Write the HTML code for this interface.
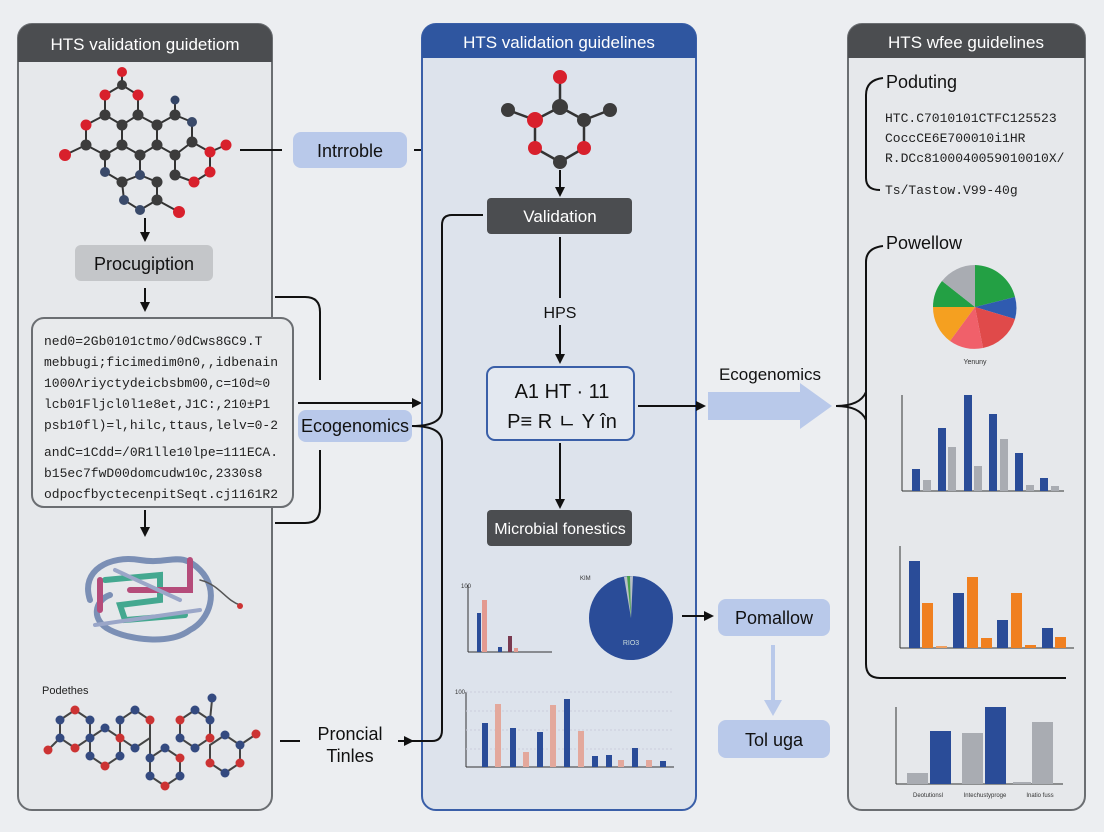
<!DOCTYPE html>
<html><head><meta charset="utf-8"><style>
html,body{margin:0;padding:0;background:#eceef1;}
svg{display:block;font-family:"Liberation Sans",sans-serif;}
.mono{font-family:"Liberation Mono",monospace;}
</style></head><body>
<svg width="1104" height="832" viewBox="0 0 1104 832" xmlns="http://www.w3.org/2000/svg">
<defs>
<marker id="ah" markerWidth="10" markerHeight="10" refX="8" refY="5" orient="auto" markerUnits="userSpaceOnUse"><path d="M0,0 L10,5 L0,10 z" fill="#111"/></marker>
</defs>
<rect width="1104" height="832" fill="#eceef1"/>

<!-- LEFT PANEL -->
<rect x="18" y="24" width="254" height="786" rx="14" fill="#e6e8eb" stroke="#6b6e72" stroke-width="2"/>
<path d="M18,62 V38 a14,14 0 0 1 14,-14 H258 a14,14 0 0 1 14,14 V62 z" fill="#4b4d50"/>
<text x="145" y="50" fill="#fff" font-size="17" text-anchor="middle">HTS validation guidetiom</text>

<g stroke="#333" stroke-width="2">
<line x1="122" y1="72" x2="122" y2="85"/><line x1="122" y1="85" x2="105" y2="95"/><line x1="122" y1="85" x2="138" y2="95"/>
<line x1="105" y1="95" x2="105" y2="115"/><line x1="138" y1="95" x2="138" y2="115"/>
<line x1="105" y1="115" x2="122" y2="125"/><line x1="138" y1="115" x2="122" y2="125"/>
<line x1="138" y1="115" x2="157" y2="125"/><line x1="157" y1="125" x2="175" y2="115"/><line x1="175" y1="115" x2="192" y2="122"/>
<line x1="175" y1="115" x2="175" y2="100"/><line x1="192" y1="122" x2="192" y2="142"/>
<line x1="105" y1="115" x2="86" y2="125"/><line x1="86" y1="125" x2="86" y2="145"/><line x1="86" y1="145" x2="65" y2="155"/>
<line x1="86" y1="145" x2="105" y2="155"/><line x1="105" y1="155" x2="122" y2="145"/><line x1="122" y1="125" x2="122" y2="145"/>
<line x1="122" y1="145" x2="140" y2="155"/><line x1="140" y1="155" x2="157" y2="145"/><line x1="157" y1="125" x2="157" y2="145"/>
<line x1="157" y1="145" x2="175" y2="155"/><line x1="175" y1="155" x2="192" y2="142"/><line x1="192" y1="142" x2="210" y2="152"/><line x1="210" y1="152" x2="226" y2="145"/>
<line x1="210" y1="152" x2="210" y2="172"/><line x1="210" y1="172" x2="194" y2="182"/><line x1="194" y1="182" x2="175" y2="175"/><line x1="175" y1="155" x2="175" y2="175"/>
<line x1="105" y1="155" x2="105" y2="172"/><line x1="105" y1="172" x2="122" y2="182"/><line x1="122" y1="182" x2="140" y2="175"/><line x1="140" y1="155" x2="140" y2="175"/>
<line x1="140" y1="175" x2="157" y2="182"/><line x1="157" y1="182" x2="157" y2="200"/><line x1="157" y1="200" x2="140" y2="210"/><line x1="140" y1="210" x2="124" y2="200"/><line x1="124" y1="200" x2="122" y2="182"/><line x1="157" y1="200" x2="179" y2="212"/>
</g>
<g>
<circle cx="122" cy="72" r="5" fill="#d8202c"/><circle cx="122" cy="85" r="5" fill="#3c3c3c"/>
<circle cx="105" cy="95" r="5.5" fill="#d8202c"/><circle cx="138" cy="95" r="5.5" fill="#d8202c"/>
<circle cx="105" cy="115" r="5.5" fill="#3c3c3c"/><circle cx="138" cy="115" r="5.5" fill="#3c3c3c"/>
<circle cx="122" cy="125" r="5.5" fill="#3c3c3c"/><circle cx="157" cy="125" r="5.5" fill="#3c3c3c"/>
<circle cx="175" cy="100" r="4.5" fill="#334466"/><circle cx="175" cy="115" r="5.5" fill="#3c3c3c"/><circle cx="192" cy="122" r="5" fill="#3a4a6a"/>
<circle cx="86" cy="125" r="5.5" fill="#d8202c"/><circle cx="86" cy="145" r="5.5" fill="#3c3c3c"/><circle cx="65" cy="155" r="6" fill="#d8202c"/>
<circle cx="105" cy="155" r="5.5" fill="#3c3c3c"/><circle cx="122" cy="145" r="5.5" fill="#3c3c3c"/><circle cx="140" cy="155" r="5.5" fill="#3c3c3c"/>
<circle cx="157" cy="145" r="5.5" fill="#3c3c3c"/><circle cx="175" cy="155" r="5.5" fill="#3c3c3c"/><circle cx="192" cy="142" r="5.5" fill="#3c3c3c"/>
<circle cx="210" cy="152" r="5.5" fill="#d8202c"/><circle cx="226" cy="145" r="5.5" fill="#d8202c"/><circle cx="210" cy="172" r="5.5" fill="#d8202c"/><circle cx="194" cy="182" r="5.5" fill="#d8202c"/>
<circle cx="175" cy="175" r="5.5" fill="#3c3c3c"/><circle cx="105" cy="172" r="5" fill="#3a4a6a"/><circle cx="122" cy="182" r="5.5" fill="#3c3c3c"/>
<circle cx="140" cy="175" r="5" fill="#3a4a6a"/><circle cx="157" cy="182" r="5.5" fill="#3c3c3c"/><circle cx="157" cy="200" r="5.5" fill="#3c3c3c"/>
<circle cx="140" cy="210" r="5" fill="#3a4a6a"/><circle cx="124" cy="200" r="5" fill="#3a4a6a"/><circle cx="179" cy="212" r="6" fill="#d8202c"/>
</g>
<line x1="145" y1="218" x2="145" y2="240" stroke="#111" stroke-width="2" marker-end="url(#ah)"/>
<rect x="75" y="245" width="138" height="36" rx="6" fill="#c4c6c9"/>
<text x="144" y="270" font-size="18" text-anchor="middle" fill="#111">Procugiption</text>
<line x1="145" y1="288" x2="145" y2="310" stroke="#111" stroke-width="2" marker-end="url(#ah)"/>

<rect x="32" y="318" width="261" height="189" rx="12" fill="#e8eaec" stroke="#6b6e72" stroke-width="2"/>
<g class="mono" font-size="13" fill="#222">
<text x="44" y="345">ned0=2Gb0101ctmo/0dCws8GC9.T</text>
<text x="44" y="366">mebbugi;ficimedim0n0,,idbenain</text>
<text x="44" y="387">1000Ʌriyctydeicbsbm00,c=10d≈0</text>
<text x="44" y="408">lcb01Fljcl0l1e8et,J1C:,210±P1</text>
<text x="44" y="429">psb10fl)=l,hilc,ttaus,lelv=0-2</text>
<text x="44" y="456">andC=1Cdd=/0R1lle10lpe=111ECA.</text>
<text x="44" y="477">b15ec7fwD00domcudw10c,2330s8</text>
<text x="44" y="498">odpocfbyctecenpitSeqt.cj1161R2</text>
</g>
<line x1="145" y1="510" x2="145" y2="535" stroke="#111" stroke-width="2" marker-end="url(#ah)"/>

<g fill="none" stroke-width="6" stroke-linecap="round">
<path d="M90,600 C80,570 110,555 140,560 C170,565 180,550 200,570 C220,590 210,620 190,630 C170,645 130,640 110,630 C90,620 95,600 110,595" stroke="#7b8fb5"/>
<path d="M105,580 L160,575 L160,600 L120,605 L125,620 L185,615" stroke="#44a890"/>
<path d="M100,610 L100,580 M130,590 L190,590 L190,560" stroke="#b54c7a"/>
<path d="M115,570 L180,600 M95,625 L200,610" stroke="#9aa6c8" stroke-width="4"/>
<path d="M200,580 C220,585 225,600 240,605" stroke="#555" stroke-width="1.5"/>
</g>
<circle cx="240" cy="606" r="3" fill="#c33"/>
<text x="42" y="694" font-size="11" fill="#222">Podethes</text>
<g stroke="#444" stroke-width="2" fill="none">
<polygon points="60,720 75,710 90,720 90,738 75,748 60,738"/>
<polygon points="90,738 105,728 120,738 120,756 105,766 90,756"/>
<polygon points="120,720 135,710 150,720 150,738 135,748 120,738"/>
<polygon points="150,758 165,748 180,758 180,776 165,786 150,776"/>
<polygon points="180,720 195,710 210,720 210,738 195,748 180,738"/>
<polygon points="210,745 225,735 240,745 240,763 225,773 210,763"/>
<line x1="48" y1="750" x2="60" y2="738"/><line x1="210" y1="720" x2="212" y2="700"/><line x1="240" y1="745" x2="255" y2="735"/><line x1="150" y1="738" x2="150" y2="758"/>
</g>
<g>
<circle cx="60" cy="720" r="4.5" fill="#344a80"/><circle cx="75" cy="710" r="4.5" fill="#c33"/><circle cx="90" cy="720" r="4.5" fill="#344a80"/><circle cx="90" cy="738" r="4.5" fill="#344a80"/><circle cx="75" cy="748" r="4.5" fill="#c33"/><circle cx="60" cy="738" r="4.5" fill="#344a80"/>
<circle cx="105" cy="728" r="4.5" fill="#344a80"/><circle cx="120" cy="738" r="4.5" fill="#c33"/><circle cx="120" cy="756" r="4.5" fill="#344a80"/><circle cx="105" cy="766" r="4.5" fill="#c33"/><circle cx="90" cy="756" r="4.5" fill="#344a80"/>
<circle cx="135" cy="710" r="4.5" fill="#344a80"/><circle cx="150" cy="720" r="4.5" fill="#c33"/><circle cx="135" cy="748" r="4.5" fill="#344a80"/><circle cx="120" cy="720" r="4.5" fill="#344a80"/>
<circle cx="165" cy="748" r="4.5" fill="#344a80"/><circle cx="180" cy="758" r="4.5" fill="#c33"/><circle cx="180" cy="776" r="4.5" fill="#344a80"/><circle cx="165" cy="786" r="4.5" fill="#c33"/><circle cx="150" cy="776" r="4.5" fill="#344a80"/><circle cx="150" cy="758" r="4.5" fill="#344a80"/>
<circle cx="195" cy="710" r="4.5" fill="#344a80"/><circle cx="210" cy="720" r="4.5" fill="#344a80"/><circle cx="210" cy="738" r="4.5" fill="#c33"/><circle cx="195" cy="748" r="4.5" fill="#344a80"/><circle cx="180" cy="738" r="4.5" fill="#344a80"/><circle cx="180" cy="720" r="4.5" fill="#c33"/>
<circle cx="225" cy="735" r="4.5" fill="#344a80"/><circle cx="240" cy="745" r="4.5" fill="#344a80"/><circle cx="240" cy="763" r="4.5" fill="#c33"/><circle cx="225" cy="773" r="4.5" fill="#344a80"/><circle cx="210" cy="763" r="4.5" fill="#c33"/>
<circle cx="48" cy="750" r="4.5" fill="#c33"/><circle cx="212" cy="698" r="4.5" fill="#344a80"/><circle cx="256" cy="734" r="4.5" fill="#c33"/>
</g>

<!-- CONNECTORS -->
<line x1="240" y1="150" x2="282" y2="150" stroke="#111" stroke-width="2"/>
<rect x="293" y="132" width="114" height="36" rx="8" fill="#b9c9ea"/>
<text x="350" y="157" font-size="18" text-anchor="middle" fill="#111">Intrroble</text>
<line x1="414" y1="150" x2="433" y2="150" stroke="#111" stroke-width="2" marker-end="url(#ah)"/>
<path d="M275,297 H305 Q320,297 320,312 V380" fill="none" stroke="#111" stroke-width="2"/>
<path d="M320,450 V508 Q320,523 305,523 H275" fill="none" stroke="#111" stroke-width="2"/>
<line x1="298" y1="403" x2="420" y2="403" stroke="#111" stroke-width="2" marker-end="url(#ah)"/>
<rect x="298" y="410" width="114" height="32" rx="8" fill="#b9c9ea"/>
<text x="355" y="432" font-size="18" text-anchor="middle" fill="#111">Ecogenomics</text>
<line x1="280" y1="741" x2="300" y2="741" stroke="#111" stroke-width="2"/>
<text x="350" y="740" font-size="18" text-anchor="middle" fill="#111">Proncial</text>
<text x="350" y="762" font-size="18" text-anchor="middle" fill="#111">Tinles</text>
<line x1="398" y1="741" x2="412" y2="741" stroke="#111" stroke-width="2" marker-end="url(#ah)"/>

<!-- CENTER PANEL -->
<rect x="422" y="24" width="274" height="786" rx="14" fill="#dde3ec" stroke="#3a5fa8" stroke-width="2"/>
<path d="M422,58 V38 a14,14 0 0 1 14,-14 H682 a14,14 0 0 1 14,14 V58 z" fill="#2f56a0"/>
<text x="559" y="48" fill="#fff" font-size="17" text-anchor="middle">HTS validation guidelines</text>
<path d="M483,215 H452 Q442,215 442,225 V410 Q442,426 412,426" fill="none" stroke="#111" stroke-width="2"/>
<path d="M412,426 Q442,426 442,442 V730 Q442,741 432,741 H412" fill="none" stroke="#111" stroke-width="2"/>
<g stroke="#333" stroke-width="2.5">
<line x1="560" y1="77" x2="560" y2="107"/><line x1="560" y1="107" x2="535" y2="120"/><line x1="560" y1="107" x2="584" y2="120"/>
<line x1="535" y1="120" x2="508" y2="110"/><line x1="584" y1="120" x2="610" y2="110"/><line x1="535" y1="120" x2="535" y2="148"/>
<line x1="584" y1="120" x2="584" y2="148"/><line x1="535" y1="148" x2="560" y2="162"/><line x1="584" y1="148" x2="560" y2="162"/>
</g>
<circle cx="560" cy="77" r="7" fill="#d8202c"/><circle cx="560" cy="107" r="8" fill="#3c3c3c"/>
<circle cx="508" cy="110" r="7" fill="#3c3c3c"/><circle cx="610" cy="110" r="7" fill="#3c3c3c"/>
<circle cx="535" cy="120" r="8" fill="#d8202c"/><circle cx="584" cy="120" r="7" fill="#3c3c3c"/>
<circle cx="535" cy="148" r="7" fill="#d8202c"/><circle cx="584" cy="148" r="7" fill="#d8202c"/><circle cx="560" cy="162" r="7" fill="#3c3c3c"/>
<line x1="560" y1="170" x2="560" y2="195" stroke="#111" stroke-width="2" marker-end="url(#ah)"/>
<rect x="487" y="198" width="145" height="36" rx="4" fill="#4b4d50"/>
<text x="560" y="222" font-size="17" text-anchor="middle" fill="#fff">Validation</text>
<line x1="560" y1="237" x2="560" y2="298" stroke="#111" stroke-width="2"/>
<text x="560" y="318" font-size="16" text-anchor="middle" fill="#111">HPS</text>
<line x1="560" y1="325" x2="560" y2="362" stroke="#111" stroke-width="2" marker-end="url(#ah)"/>
<rect x="487" y="367" width="147" height="73" rx="8" fill="#e3e8f0" stroke="#3a5fa8" stroke-width="2"/>
<text x="562" y="398" font-size="20" text-anchor="middle" fill="#111">A1  HT · 11</text>
<text x="562" y="428" font-size="20" text-anchor="middle" fill="#111">P≡  R ㄴ Y în</text>
<line x1="560" y1="443" x2="560" y2="507" stroke="#111" stroke-width="2" marker-end="url(#ah)"/>
<rect x="487" y="510" width="145" height="36" rx="4" fill="#4b4d50"/>
<text x="560" y="534" font-size="16" text-anchor="middle" fill="#fff">Microbial fonestics</text>
<g stroke="#333" stroke-width="1"><line x1="468" y1="585" x2="468" y2="652"/><line x1="468" y1="652" x2="552" y2="652"/></g>
<rect x="477" y="613" width="4" height="39" fill="#2a4c98"/><rect x="482" y="600" width="5" height="52" fill="#e39a90"/>
<rect x="498" y="647" width="4" height="5" fill="#2a4c98"/><rect x="508" y="636" width="4" height="16" fill="#7a3a50"/><rect x="514" y="648" width="4" height="4" fill="#e39a90"/>
<text x="461" y="588" font-size="6" fill="#333">100</text>
<circle cx="631" cy="618" r="42" fill="#2a4c98"/>
<path d="M631,618 L624,577 L633,576 z" fill="#b9c0c8"/><path d="M631,618 L627,576 L630,576 z" fill="#4aa04a"/>
<text x="631" y="645" font-size="7" fill="#cdd" text-anchor="middle">RIO3</text>
<text x="580" y="580" font-size="6" fill="#333">KIM</text>
<g stroke="#333" stroke-width="1"><line x1="466" y1="692" x2="466" y2="767"/><line x1="466" y1="767" x2="674" y2="767"/></g>
<g stroke="#ccd" stroke-dasharray="2,2"><line x1="466" y1="692" x2="674" y2="692"/><line x1="466" y1="711" x2="674" y2="711"/><line x1="466" y1="730" x2="674" y2="730"/><line x1="466" y1="749" x2="674" y2="749"/></g>
<rect x="482" y="723" width="6" height="44" fill="#2a4c98"/><rect x="495" y="704" width="6" height="63" fill="#e3a89c"/>
<rect x="510" y="728" width="6" height="39" fill="#2a4c98"/><rect x="523" y="752" width="6" height="15" fill="#e3a89c"/>
<rect x="537" y="732" width="6" height="35" fill="#2a4c98"/><rect x="550" y="705" width="6" height="62" fill="#e3a89c"/>
<rect x="564" y="699" width="6" height="68" fill="#2a4c98"/><rect x="578" y="731" width="6" height="36" fill="#e3a89c"/>
<rect x="592" y="756" width="6" height="11" fill="#2a4c98"/><rect x="606" y="755" width="6" height="12" fill="#2a4c98"/><rect x="618" y="760" width="6" height="7" fill="#e3a89c"/>
<rect x="632" y="748" width="6" height="19" fill="#2a4c98"/><rect x="646" y="760" width="6" height="7" fill="#e3a89c"/><rect x="660" y="761" width="6" height="6" fill="#2a4c98"/>
<text x="455" y="694" font-size="6" fill="#333">100</text>

<!-- CENTER TO RIGHT -->
<line x1="638" y1="406" x2="704" y2="406" stroke="#111" stroke-width="2" marker-end="url(#ah)"/>
<text x="770" y="380" font-size="17" text-anchor="middle" fill="#111">Ecogenomics</text>
<path d="M708,392 H800 V383 L832,406 L800,429 V420 H708 z" fill="#b9c9ea"/>
<line x1="682" y1="616" x2="712" y2="616" stroke="#111" stroke-width="2" marker-end="url(#ah)"/>
<rect x="718" y="599" width="112" height="37" rx="8" fill="#b9c9ea"/>
<text x="774" y="624" font-size="18" text-anchor="middle" fill="#111">Pomallow</text>
<line x1="773" y1="645" x2="773" y2="703" stroke="#b9c9ea" stroke-width="4"/>
<path d="M764,700 L773,716 L782,700 z" fill="#b9c9ea"/>
<rect x="718" y="720" width="112" height="38" rx="8" fill="#b9c9ea"/>
<text x="774" y="746" font-size="18" text-anchor="middle" fill="#111">Tol uga</text>

<!-- RIGHT PANEL -->
<rect x="848" y="24" width="237" height="786" rx="14" fill="#e6e8eb" stroke="#6b6e72" stroke-width="2"/>
<path d="M848,58 V38 a14,14 0 0 1 14,-14 H1071 a14,14 0 0 1 14,14 V58 z" fill="#4b4d50"/>
<text x="966" y="48" fill="#fff" font-size="17" text-anchor="middle">HTS wfee guidelines</text>
<path d="M836,406 Q860,406 866,392 M836,406 Q860,406 866,420" fill="none" stroke="#111" stroke-width="2"/>
<path d="M883,78 Q866,80 866,95 V178 Q866,190 880,190" fill="none" stroke="#111" stroke-width="2"/>
<text x="886" y="88" font-size="18" fill="#111">Poduting</text>
<g class="mono" font-size="13" fill="#222">
<text x="885" y="122">HTC.C7010101CTFC125523</text>
<text x="885" y="142">CoccCE6E700010i1HR</text>
<text x="885" y="162">R.DCc8100040059010010X/</text>
<text x="885" y="194">Ts/Tastow.V99-40g</text>
</g>
<path d="M883,246 Q866,248 866,262 V664 Q866,678 880,678 H1066" fill="none" stroke="#111" stroke-width="2"/>
<text x="886" y="249" font-size="18" fill="#111">Powellow</text>
<g transform="translate(975,307)">
<path d="M0,0 L0,-42 A42,42 0 0 1 40,-10 z" fill="#23a044"/>
<path d="M0,0 L40,-10 A42,42 0 0 1 40,12 z" fill="#2f5bb0"/>
<path d="M0,0 L40,12 A42,42 0 0 1 8,41 z" fill="#e04a4a"/>
<path d="M0,0 L8,41 A42,42 0 0 1 -25,34 z" fill="#f0606a"/>
<path d="M0,0 L-25,34 A42,42 0 0 1 -42,0 z" fill="#f5a020"/>
<path d="M0,0 L-42,0 A42,42 0 0 1 -33,-26 z" fill="#23a044"/>
<path d="M0,0 L-33,-26 A42,42 0 0 1 0,-42 z" fill="#a9acb2"/>
</g>
<text x="975" y="364" font-size="7" text-anchor="middle" fill="#333">Yenuny</text>
<g stroke="#333" stroke-width="1"><line x1="902" y1="395" x2="902" y2="491"/><line x1="902" y1="491" x2="1064" y2="491"/></g>
<rect x="912" y="469" width="8" height="22" fill="#2a4c98"/><rect x="923" y="480" width="8" height="11" fill="#a9acb2"/>
<rect x="938" y="428" width="8" height="63" fill="#2a4c98"/><rect x="948" y="447" width="8" height="44" fill="#a9acb2"/>
<rect x="964" y="395" width="8" height="96" fill="#2a4c98"/><rect x="974" y="466" width="8" height="25" fill="#a9acb2"/>
<rect x="989" y="414" width="8" height="77" fill="#2a4c98"/><rect x="1000" y="439" width="8" height="52" fill="#a9acb2"/>
<rect x="1015" y="453" width="8" height="38" fill="#2a4c98"/><rect x="1026" y="485" width="8" height="6" fill="#a9acb2"/>
<rect x="1040" y="478" width="8" height="13" fill="#2a4c98"/><rect x="1051" y="486" width="8" height="5" fill="#a9acb2"/>
<g stroke="#333" stroke-width="1"><line x1="900" y1="546" x2="900" y2="648"/><line x1="900" y1="648" x2="1074" y2="648"/></g>
<rect x="909" y="561" width="11" height="87" fill="#2a4c98"/><rect x="922" y="603" width="11" height="45" fill="#f08020"/><rect x="936" y="646" width="11" height="2" fill="#f0a060"/>
<rect x="953" y="593" width="11" height="55" fill="#2a4c98"/><rect x="967" y="577" width="11" height="71" fill="#f08020"/><rect x="981" y="638" width="11" height="10" fill="#f08020"/>
<rect x="997" y="620" width="11" height="28" fill="#2a4c98"/><rect x="1011" y="593" width="11" height="55" fill="#f08020"/><rect x="1025" y="645" width="11" height="3" fill="#f08020"/>
<rect x="1042" y="628" width="11" height="20" fill="#2a4c98"/><rect x="1055" y="637" width="11" height="11" fill="#f08020"/>
<g stroke="#333" stroke-width="1"><line x1="896" y1="707" x2="896" y2="784"/><line x1="896" y1="784" x2="1063" y2="784"/></g>
<rect x="907" y="773" width="21" height="11" fill="#a9acb2"/><rect x="930" y="731" width="21" height="53" fill="#2a4c98"/>
<rect x="962" y="733" width="21" height="51" fill="#a9acb2"/><rect x="985" y="707" width="21" height="77" fill="#2a4c98"/>
<rect x="1013" y="782" width="18" height="2" fill="#a9acb2"/><rect x="1032" y="722" width="21" height="62" fill="#a9acb2"/>
<text x="928" y="797" font-size="6" text-anchor="middle" fill="#333">Deotutionsl</text>
<text x="985" y="797" font-size="6" text-anchor="middle" fill="#333">Intechustyproge</text>
<text x="1040" y="797" font-size="6" text-anchor="middle" fill="#333">Inatio fuss</text>
</svg>
</body></html>
